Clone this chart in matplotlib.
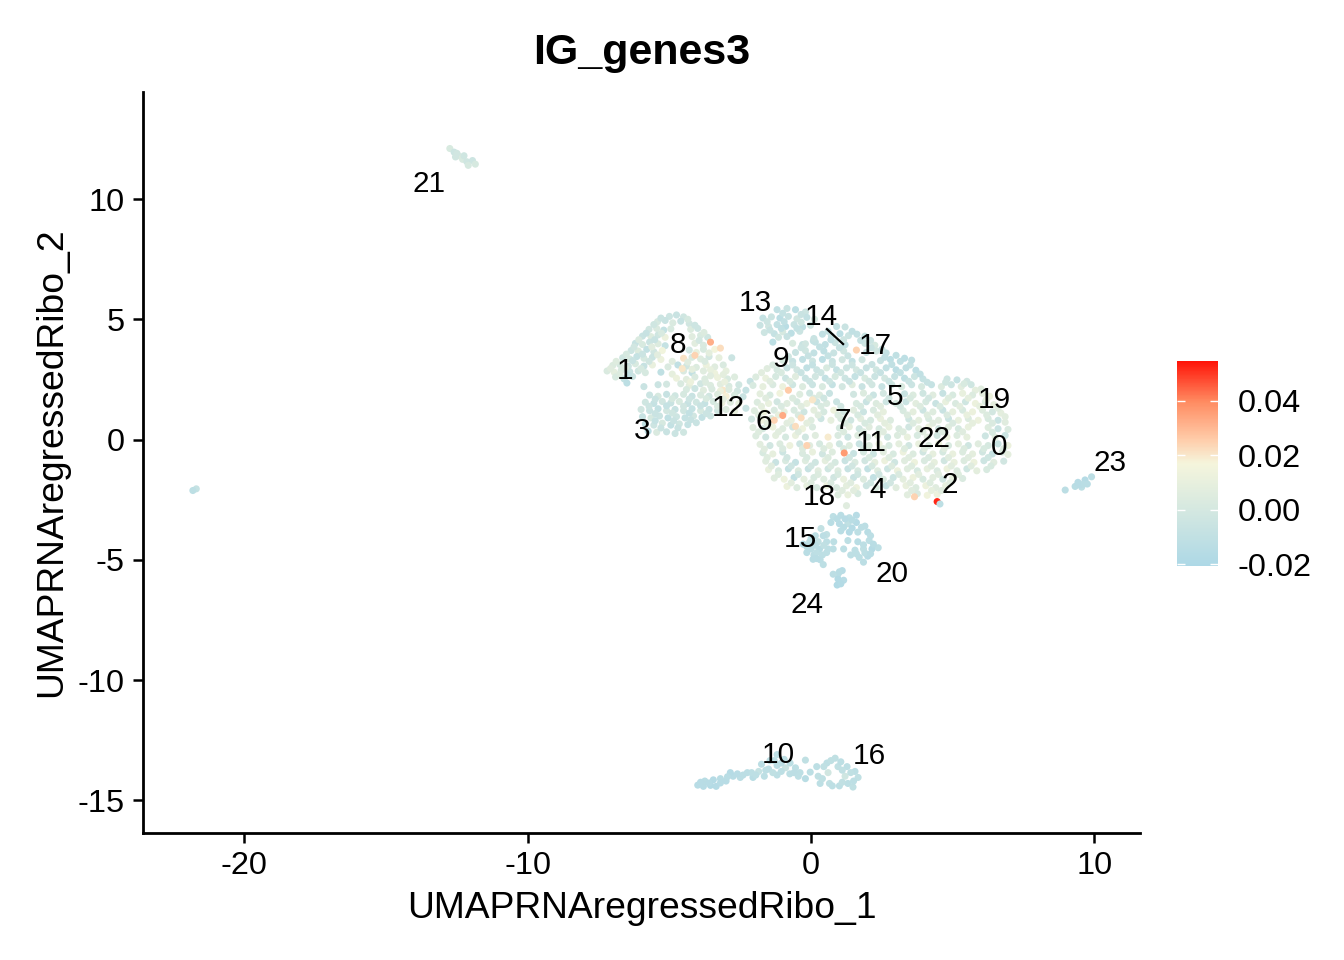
import matplotlib
matplotlib.use("Agg")
import matplotlib.pyplot as plt
from matplotlib.colors import LinearSegmentedColormap, Normalize
from matplotlib.cm import ScalarMappable

plt.rcParams['font.family'] = ['Liberation Sans', 'DejaVu Sans']
plt.rcParams['axes.unicode_minus'] = False

# (UMAP_1, UMAP_2, IG_genes3 score)
left_arc = [
(-5.0,5.12,-.004),(-4.75,5.18,-.006),(-4.5,5.1,-.003),(-5.42,4.9,.001),(-5.15,4.95,-.006),(-4.88,4.85,.003),(-4.6,4.92,-.007),(-4.3,4.82,-.002),
(-5.72,4.58,-.002),(-5.45,4.62,.003),(-5.2,4.55,-.008),(-4.95,4.6,.002),(-4.25,4.58,.004),(-4.0,4.62,-.004),
(-5.95,4.3,-.006),(-5.65,4.28,.005),(-5.4,4.35,-.003),(-5.15,4.25,.012),(-4.2,4.28,.006),(-3.9,4.33,.002),(-3.65,4.25,-.003),
(-6.2,4.0,-.007),(-5.95,3.95,.002),(-5.7,4.05,-.005),(-5.4,3.98,.004),(-5.15,3.9,-.008),(-4.1,4.0,.007),(-3.8,3.92,.003),
(-6.35,3.7,-.004),(-6.1,3.68,.004),(-5.8,3.75,-.009),(-5.55,3.65,-.002),(-5.25,3.7,.015),(-4.3,3.72,-.002),(-4.05,3.62,.01),(-3.8,3.75,.002),(-3.4,3.75,.016),
(-6.65,3.4,-.003),(-6.4,3.35,.002),(-6.15,3.45,-.008),(-5.9,3.38,.001),(-5.6,3.42,-.005),(-5.3,3.33,.012),(-4.9,3.25,.006),(-4.5,3.38,.021),(-4.2,3.42,.002),(-3.9,3.35,.005),(-3.6,3.45,-.001),(-3.25,3.4,.009),(-2.8,3.4,-.005),
(-7.0,3.08,.004),(-6.75,3.12,.001),(-6.45,3.05,-.004),(-6.2,3.15,.002),(-5.9,3.05,-.007),(-5.6,3.1,.011),(-5.05,3.02,.003),(-4.7,3.1,-.01),(-4.4,3.05,-.002),(-4.05,3.0,.004),(-3.7,3.1,.012),(-3.4,3.02,.006),(-3.1,3.1,.003),
(-7.2,2.85,.003),(-6.95,2.8,.008),(-6.7,2.88,.002),(-6.4,2.82,-.006),(-6.1,2.85,-.003),(-5.85,2.78,.001),(-5.3,2.8,-.011),(-4.9,2.72,.009),(-4.5,2.85,.003),(-4.2,2.78,-.009),(-3.8,2.85,.006),(-3.4,2.75,.013),(-3.0,2.85,.009),
(-6.9,2.6,.002),(-6.6,2.52,-.008),(-6.3,2.62,-.005),(-4.75,2.55,.012),(-4.4,2.5,.007),(-4.1,2.6,.003),(-3.75,2.52,.004),(-3.3,2.58,.012),(-2.95,2.52,.002),(-2.7,2.6,.005),
(-6.5,2.35,-.012),(-5.9,2.2,-.006),(-5.4,2.28,-.005),(-5.1,2.3,-.001),(-4.6,2.32,.003),(-4.3,2.25,.008),(-3.9,2.32,-.002),(-3.55,2.25,.004),(-3.2,2.3,.007),(-2.9,2.22,.002),(-2.55,2.28,-.003),(-2.15,2.42,-.007),
(-5.3,5.05,-.005),(-4.35,5.0,.001),(-5.55,4.78,-.003),(-4.1,4.75,-.004),(-5.82,4.42,-.007),(-5.28,4.42,.002),(-3.78,4.45,.004),(-6.08,4.15,.003),(-5.52,4.15,-.006),(-3.95,4.12,-.001),(-6.25,3.85,-.002),(-5.62,3.85,.006),(-3.6,3.6,.008),(-6.52,3.55,.001),(-5.95,3.55,-.005),(-5.42,3.52,.007),(-6.88,3.25,.005),(-6.3,3.28,-.006),(-5.72,3.25,-.002),(-4.35,3.22,.006),(-3.75,3.25,.003),(-7.08,2.95,.006),(-6.55,2.98,.003),(-6.0,2.95,.001),(-4.2,2.92,.008),(-3.55,2.9,.01),(-6.75,2.72,.004),(-6.45,2.68,-.009),(-3.55,2.65,.006),(-3.1,2.7,.008),(-4.25,2.4,.012),(-3.72,2.38,.004),(-3.05,2.4,.011),
(-3.55,4.05,.032),(-3.2,3.8,.022),(-4.1,3.5,.024),(-4.55,2.95,.02),(-3.1,2.05,.02),
]
left_lower = [
(-4.4,2.08,.002),(-4.1,2.12,-.004),(-3.8,2.05,.006),(-3.5,2.1,.003),(-3.2,2.02,.012),(-2.9,2.08,.004),(-2.6,2.02,-.002),(-2.3,2.05,-.008),
(-5.7,1.85,-.005),(-5.4,1.8,.001),(-5.1,1.88,-.007),(-4.8,1.82,-.003),(-4.5,1.88,.001),(-4.2,1.8,-.006),(-3.9,1.85,.003),(-3.6,1.8,-.002),(-3.3,1.88,.005),(-3.0,1.8,.018),(-2.7,1.85,.002),(-2.4,1.78,-.006),
(-5.85,1.55,-.003),(-5.55,1.5,-.008),(-5.25,1.58,-.002),(-4.95,1.52,-.006),(-4.65,1.58,.002),(-4.35,1.5,-.007),(-4.05,1.55,-.003),(-3.75,1.5,-.008),(-3.45,1.58,.001),(-3.15,1.52,.012),(-2.85,1.55,.006),(-2.55,1.5,.01),
(-6.0,1.25,-.002),(-5.7,1.2,-.006),(-5.4,1.28,-.009),(-5.1,1.2,-.001),(-4.8,1.25,-.007),(-4.5,1.2,-.003),(-4.2,1.28,-.008),(-3.9,1.2,.001),(-3.6,1.25,-.006),(-3.3,1.2,-.003),(-3.0,1.25,.004),(-2.7,1.18,.011),(-2.3,1.3,-.006),
(-5.95,.95,-.007),(-5.65,.9,.001),(-5.35,.98,-.005),(-5.05,.9,-.01),(-4.75,.95,-.004),(-4.45,.9,-.008),(-4.15,.98,-.002),(-3.85,.92,-.009),(-3.55,.98,-.004),
(-5.85,.65,-.011),(-5.55,.6,-.004),(-5.25,.68,.001),(-4.95,.6,-.009),(-4.65,.65,-.003),(-4.35,.62,-.008),(-4.05,.7,-.006),
(-5.75,.35,-.013),(-5.45,.3,.003),(-5.1,.32,-.006),(-4.8,.25,-.005),(-4.5,.3,-.003),
(-5.5,1.68,-.006),(-4.9,1.7,.001),(-4.3,1.68,-.004),(-3.7,1.7,.002),(-3.1,1.68,.008),(-5.72,1.38,-.004),(-5.1,1.4,-.008),(-4.5,1.38,-.002),(-3.9,1.4,-.006),(-3.3,1.38,.003),(-5.5,1.08,-.006),(-4.9,1.1,-.003),(-4.3,1.1,-.009),(-3.7,1.08,-.005),(-5.5,.78,-.008),(-4.85,.78,-.006),(-4.25,.82,-.007),(-5.3,.48,-.005),(-4.7,.48,-.006),
]
cluster_13 = [
(-1.2,5.4,-.01),(-.85,5.45,-.006),(-.55,5.4,-.012),(-.2,5.3,-.004),(-1.7,5.05,-.008),(-1.4,5.1,-.005),(-1.1,5.05,-.013),(-.8,5.12,-.007),(-.5,5.02,-.002),(-.15,5.08,-.009),(.12,5.0,.001),
(-1.8,4.75,-.006),(-1.5,4.7,-.002),(-1.2,4.78,-.009),(-.9,4.7,-.014),(-.6,4.78,-.006),(-.3,4.68,-.011),(-.02,4.75,-.003),(-1.65,4.45,-.004),(-1.3,4.4,-.008),(-1.0,4.48,.001),(-.7,4.42,-.012),(-.4,4.5,-.005),(-1.35,4.05,-.012),(-.65,4.0,.002),(-.3,3.95,-.006),(.08,4.1,-.008),
(-1.0,5.25,-.008),(-.35,5.2,-.006),(-1.55,4.9,-.004),(-.95,4.9,-.01),(-.35,4.88,-.003),(-1.45,4.55,-.006),(-1.05,4.62,-.011),(-.5,4.62,-.008),(-.85,4.28,-.007),(-1.15,4.25,-.003),
]
main_top = [
(.9,4.7,-.009),(1.2,4.68,-.006),(.4,4.38,-.01),(.72,4.3,-.007),(1.02,4.4,-.012),(1.32,4.32,-.005),(1.62,4.38,-.009),(1.9,4.3,-.006),
(-.2,3.98,-.002),(.15,4.05,-.008),(.5,3.95,-.01),(.85,4.03,-.005),(1.2,3.94,-.009),(1.9,4.0,-.004),(2.25,3.92,.001),
(-.55,3.62,-.006),(-.2,3.7,-.003),(.1,3.6,-.009),(.45,3.68,-.011),(.8,3.6,-.006),(1.15,3.68,-.003),(1.95,3.62,-.007),(2.3,3.68,-.002),(2.65,3.6,-.009),
(-1.0,3.3,.002),(-.65,3.25,-.007),(-.3,3.33,-.01),(.05,3.26,-.004),(.4,3.33,-.012),(.75,3.25,-.006),(1.1,3.32,-.002),(1.45,3.25,-.009),(1.8,3.32,-.003),(2.45,3.28,-.007),(2.8,3.33,-.012),(3.15,3.25,-.01),(3.5,3.1,-.008),
(-1.55,2.95,.006),(-1.2,2.9,.001),(-.85,2.98,-.006),(-.5,2.9,-.002),(-.15,2.98,-.01),(.2,2.9,-.005),(.55,2.98,.002),(.9,2.9,-.008),(1.25,2.98,-.004),(1.6,2.9,-.001),(1.95,2.98,-.007),(2.3,2.9,-.003),(2.65,2.98,-.009),(3.0,2.9,-.013),(3.35,2.98,-.01),(3.7,2.88,-.012),
(-1.95,2.6,.004),(-1.6,2.55,.011),(-1.25,2.62,.001),(-.9,2.55,-.004),(-.55,2.62,.006),(-.2,2.55,-.006),(.15,2.62,-.002),(.5,2.55,-.009),(.85,2.62,.001),(1.2,2.55,-.004),(1.55,2.62,-.008),(1.9,2.55,.002),(2.25,2.62,-.005),(2.6,2.55,-.001),(2.95,2.62,-.007),(3.3,2.55,-.011),(3.65,2.62,-.004),(3.95,2.52,-.008),(4.8,2.52,-.004),(5.15,2.48,-.008),(5.5,2.42,-.002),
(-2.05,2.25,.002),(-1.7,2.2,.009),(-1.35,2.28,.003),(-1.0,2.2,.012),(-.65,2.28,-.003),(-.3,2.2,.004),(.05,2.28,-.005),(.4,2.2,.002),(.75,2.28,-.008),(1.1,2.2,-.001),(1.45,2.28,.005),(1.8,2.2,-.006),(2.15,2.28,-.002),(2.5,2.2,-.007),(2.85,2.28,-.003),(3.2,2.2,.002),(3.55,2.28,-.005),(3.9,2.2,.001),(4.25,2.28,-.008),(4.6,2.2,.004),(4.95,2.28,-.004),(5.3,2.2,.007),(5.65,2.28,-.003),(6.0,2.1,.006),
(.6,4.5,-.008),(1.45,4.5,-.01),(.1,4.2,-.006),(.7,4.15,-.01),(1.15,4.15,-.004),(1.75,4.12,-.007),(2.1,4.12,-.005),(-.35,3.82,-.004),(.3,3.85,-.009),(1.0,3.82,-.007),(2.12,3.82,-.006),(2.5,3.75,-.006),(-.8,3.45,-.003),(-.1,3.48,-.007),(.6,3.48,-.008),(1.3,3.48,-.005),(2.6,3.42,-.01),(3.0,3.5,-.011),(3.3,3.38,-.012),(-1.35,3.1,.003),(-.65,3.1,-.004),(.05,3.1,-.008),(.75,3.12,-.005),(1.45,3.1,-.004),(2.15,3.12,-.006),(2.85,3.12,-.01),(3.55,3.3,-.01),(-1.75,2.78,.007),(-1.05,2.78,.002),(-.35,2.78,-.006),(.35,2.78,-.004),(1.05,2.78,-.003),(1.75,2.78,-.006),(2.45,2.78,-.007),(3.15,2.78,-.009),(3.85,2.72,-.01),(-1.45,2.42,.006),(-.75,2.42,.002),(-.05,2.42,-.005),(.65,2.42,-.004),(1.35,2.42,-.006),(2.05,2.42,-.002),(2.75,2.42,-.005),(3.45,2.42,-.006),(4.1,2.38,-.007),(4.75,2.38,-.003),(5.4,2.32,.002),(5.8,2.05,.008),
(1.6,3.72,.024),(-.8,2.05,.026),
]
main_mid = [
(-1.8,1.9,.008),(-1.45,1.85,.002),(-1.1,1.92,.014),(-.4,1.88,.005),(-.05,1.93,-.003),(.3,1.85,.004),(.65,1.92,-.006),(1.5,1.88,-.002),(1.85,1.93,.004),(2.2,1.85,-.005),(2.55,1.92,-.001),(3.3,1.9,-.006),(3.6,1.85,.004),(3.95,1.92,-.003),(4.3,1.85,.006),(4.65,1.92,-.007),(5.0,1.85,.002),(5.35,1.92,.01),(5.7,1.85,.004),(6.05,1.92,.008),(6.3,1.8,.012),
(-1.9,1.55,.004),(-1.5,1.5,.01),(-1.2,1.57,-.002),(-.85,1.5,.006),(-.5,1.57,.001),(-.15,1.5,.011),(.2,1.57,-.004),(.55,1.5,.003),(.9,1.57,-.005),(1.6,1.5,.002),(1.95,1.57,-.006),(2.3,1.5,.004),(2.65,1.57,-.004),(3.0,1.5,.001),(3.35,1.57,-.006),(3.7,1.5,.007),(4.05,1.57,.001),(4.4,1.5,-.006),(4.75,1.57,.01),(5.1,1.5,.003),(5.45,1.57,-.003),(5.8,1.5,.012),(6.15,1.57,.004),(6.45,1.45,.008),
(-2.0,1.2,.005),(-1.65,1.15,.012),(-1.3,1.22,.003),(-.95,1.15,.009),(-.6,1.22,.002),(-.25,1.15,-.003),(.1,1.22,.008),(.45,1.15,.001),(.8,1.22,.013),(1.15,1.15,-.002),(1.5,1.22,.006),(1.85,1.15,-.005),(2.2,1.22,.003),(2.55,1.15,.009),(3.25,1.2,.002),(3.6,1.15,.008),(3.95,1.22,-.004),(4.3,1.15,.005),(4.65,1.22,-.006),(5.0,1.15,.009),(5.35,1.22,.002),(5.7,1.15,.012),(6.05,1.22,.005),(6.4,1.15,-.001),(6.7,1.1,.008),
(-2.1,.85,-.002),(-1.75,.8,.014),(-1.4,.87,.004),(-.7,.8,.011),(0,.8,.005),(.35,.87,-.004),(.7,.8,.009),(1.05,.87,.002),(1.4,.8,-.003),(1.75,.87,.007),(2.1,.8,.001),(2.45,.87,.011),(2.8,.8,.004),(3.45,.85,-.003),(3.8,.8,.008),(4.15,.87,.002),(4.5,.8,.006),(4.85,.87,-.005),(5.2,.8,.01),(5.55,.87,.004),(5.9,.8,.012),(6.25,.87,.002),(6.6,.8,-.006),(6.85,.72,.006),
(-2.05,.5,.006),(-1.7,.45,.001),(-1.35,.52,.012),(-1,.45,.005),(-.65,.52,-.002),(-.3,.45,.013),(.05,.52,.003),(1.0,.48,.001),(1.35,.53,.009),(1.7,.45,-.003),(2.05,.52,.006),(2.4,.45,.001),(2.75,.52,.01),(3.1,.45,.003),(3.45,.52,-.002),(3.8,.45,.008),(4.15,.52,.012),(4.5,.45,-.002),(4.85,.52,.006),(5.2,.45,.001),(5.55,.52,.01),(6.25,.5,.005),(6.6,.45,-.006),(6.95,.42,.003),
(-1.95,.15,.004),(-1.6,.1,-.003),(-1.25,.17,.008),(-.9,.1,.001),(-.55,.17,.011),(-.2,.1,-.002),(.15,.17,.006),(.6,.1,.019),(.95,.17,.003),(1.3,.1,-.004),(1.65,.17,.005),(2.0,.1,.002),(2.35,.17,.009),(2.7,.1,-.003),(3.05,.17,.004),(3.4,.1,.01),(3.75,.17,.002),(4.1,.1,.007),(4.45,.17,-.002),(4.8,.1,.012),(5.15,.17,.004),(5.5,.1,.009),(6.15,.15,-.004),(6.5,.1,.007),(6.85,.17,-.005),
(-1.6,1.72,.006),(-.65,1.72,.004),(.1,1.72,.003),(.45,1.72,-.003),(2.05,1.72,.001),(2.75,1.72,-.002),(3.5,1.72,.002),(4.15,1.72,-.001),(4.85,1.72,.005),(5.55,1.72,.008),(6.2,1.68,.01),(-1.75,1.38,.008),(-1.05,1.38,.003),(-.35,1.38,.006),(.35,1.38,.002),(1.05,1.38,-.002),(1.75,1.38,.001),(2.45,1.38,.006),(3.15,1.38,-.001),(3.85,1.38,.004),(4.55,1.38,.002),(5.25,1.38,.007),(5.95,1.38,.009),(6.6,1.3,.005),(-1.85,1.02,.006),(-1.15,1.02,.009),(-.45,1.02,.003),(.25,1.02,.006),(.95,1.02,.004),(1.65,1.02,.002),(2.35,1.02,.007),(3.4,1.02,.004),(4.1,1.02,.005),(4.8,1.02,.003),(5.5,1.02,.01),(6.2,1.02,.004),(6.85,.95,.007),(-1.55,.68,.008),(-.85,.68,.007),(-.15,.68,.008),(1.2,.68,.004),(1.9,.68,.002),(2.6,.68,.008),(3.6,.68,.004),(4.3,.68,.006),(5.0,.68,.003),(5.7,.68,.009),(6.4,.68,.003),(-1.85,.32,.005),(-1.15,.32,.007),(-.45,.32,.006),(1.15,.32,.004),(1.85,.32,.003),(2.55,.32,.006),(3.25,.32,.005),(3.95,.32,.006),(4.65,.32,.005),(5.35,.32,.006),(6.4,.3,.002),
(-1.0,1.0,.033),(-1.3,.8,.024),(-.35,.9,.022),(-.55,.55,.022),(.05,1.65,.02),
]
main_low = [
(-1.8,-.2,.007),(-1.45,-.25,-.002),(-1.1,-.18,.004),(-.75,-.25,.012),(-.4,-.18,-.004),(-.05,-.25,.006),(.3,-.18,.001),(.65,-.25,.009),(1.0,-.18,-.003),(1.35,-.25,.005),(1.7,-.18,-.006),(2.05,-.25,.004),(2.4,-.18,.012),(2.75,-.25,.002),(3.1,-.18,.008),(3.45,-.25,-.002),(3.8,-.18,.011),(4.15,-.25,.004),(4.5,-.18,.013),(4.85,-.25,.002),(5.2,-.18,.008),(5.55,-.25,-.003),(5.9,-.18,.006),(6.25,-.25,.001),(6.6,-.18,-.006),(6.95,-.25,.012),
(-1.7,-.55,.002),(-1.35,-.6,.009),(-1.0,-.52,-.004),(-.3,-.58,.003),(.05,-.52,.011),(.4,-.6,-.002),(.75,-.52,.005),(1.5,-.58,-.006),(1.85,-.52,.001),(2.2,-.6,-.004),(2.55,-.52,.007),(2.9,-.6,.002),(3.25,-.52,.012),(3.6,-.6,.004),(3.95,-.52,-.002),(4.3,-.6,.009),(4.65,-.52,.001),(5,-.6,.011),(5.35,-.52,.004),(5.7,-.6,.008),(6.05,-.52,-.002),(6.4,-.6,-.007),(6.75,-.52,.003),(6.95,-.62,.008),
(-1.6,-.9,.006),(-1.25,-.95,-.006),(-.9,-.88,.002),(-.55,-.95,-.008),(-.2,-.88,.005),(.15,-.95,-.003),(.5,-.88,.008),(.85,-.95,.001),(1.2,-.88,-.006),(1.55,-.95,.003),(1.9,-.88,-.002),(2.25,-.95,.008),(2.6,-.88,.012),(2.95,-.95,-.003),(3.3,-.88,.006),(3.65,-.95,.013),(4,-.88,.003),(4.35,-.95,.009),(4.7,-.88,-.002),(5.05,-.95,.011),(5.4,-.88,.004),(5.75,-.95,.012),(6.1,-.88,-.004),(6.45,-.95,.006),(6.8,-.9,-.002),
(-1.5,-1.25,.011),(-1.15,-1.3,.002),(-.8,-1.22,-.009),(-.45,-1.3,.004),(-.1,-1.22,-.007),(.25,-1.3,.007),(.6,-1.22,-.003),(.95,-1.3,.005),(1.3,-1.22,-.007),(1.65,-1.3,.001),(2,-1.22,-.009),(2.35,-1.3,.005),(2.7,-1.22,-.004),(3.05,-1.3,.012),(3.4,-1.22,.006),(3.75,-1.3,.001),(4.1,-1.22,.009),(4.45,-1.3,.003),(4.8,-1.22,.012),(5.15,-1.3,.004),(5.5,-1.22,-.003),(5.85,-1.3,.008),(6.2,-1.25,.002),
(-1.3,-1.6,.006),(-.95,-1.65,.013),(-.6,-1.58,-.01),(-.25,-1.65,.008),(.1,-1.58,.002),(.45,-1.65,.005),(.8,-1.58,-.002),(1.15,-1.65,.011),(1.5,-1.58,-.006),(1.85,-1.65,.004),(2.2,-1.58,-.009),(2.55,-1.65,.003),(2.9,-1.58,-.004),(3.25,-1.65,.008),(3.6,-1.58,.012),(3.95,-1.65,.002),(4.3,-1.58,.007),(4.65,-1.65,-.002),(5,-1.58,.009),(5.35,-1.62,.003),
(-.85,-1.95,.012),(-.5,-2.0,.004),(-.15,-1.92,.009),(.2,-2.0,.002),(.55,-1.92,.012),(.9,-2.0,.003),(1.25,-1.92,.008),(1.6,-2.0,.012),(1.95,-1.92,-.004),(2.3,-2.0,.003),(2.65,-1.92,-.007),(3.0,-2.0,.006),(3.35,-1.92,.011),(3.7,-2.0,.004),(4.05,-1.92,.012),(4.4,-2.0,.006),(4.75,-1.92,.009),
(.95,-2.3,.005),(1.3,-2.3,.011),(1.65,-2.25,.002),(3.4,-2.3,.007),(3.75,-2.25,.003),(4.1,-2.32,.014),(4.45,-2.28,.012),(1.25,-2.75,.006),
(-1.65,-.4,.006),(-1.0,-.38,.003),(-.3,-.38,.004),(.45,-.38,.004),(1.15,-.38,.002),(1.85,-.38,-.001),(2.55,-.38,.006),(3.3,-.38,.005),(4.0,-.38,.006),(4.7,-.38,.006),(5.4,-.38,.004),(6.1,-.38,.002),(6.8,-.38,.004),(-1.55,-.75,.005),(-.85,-.75,-.002),(-.15,-.75,.002),(.6,-.75,.004),(1.35,-.75,-.002),(2.05,-.75,.002),(2.75,-.75,.005),(3.45,-.75,.006),(4.15,-.75,.003),(4.85,-.75,.006),(5.55,-.75,.006),(6.25,-.75,-.003),(-1.4,-1.1,.006),(-.7,-1.1,-.004),(0,-1.1,-.002),(.7,-1.1,.003),(1.45,-1.1,-.002),(2.15,-1.1,.001),(2.85,-1.1,.004),(3.55,-1.1,.005),(4.25,-1.1,.006),(4.95,-1.1,.007),(5.65,-1.1,.006),(6.35,-1.1,.002),(-1.15,-1.45,.005),(-.45,-1.45,-.003),(.25,-1.45,.004),(.95,-1.45,.002),(1.65,-1.45,-.003),(2.4,-1.45,-.002),(3.1,-1.45,.003),(3.8,-1.45,.007),(4.5,-1.45,.006),(5.2,-1.45,.005),(-.7,-1.8,.007),(0,-1.8,.005),(.7,-1.8,.003),(1.4,-1.8,.006),(2.1,-1.8,-.003),(2.8,-1.8,-.002),(3.5,-1.8,.007),(4.2,-1.8,.005),(4.9,-1.8,.006),(1.1,-2.12,.006),(1.5,-2.12,.007),(3.55,-2.12,.006),(4.25,-2.12,.009),(4.6,-2.12,.006),
(-.15,-.25,.024),(1.17,-.56,.036),(3.65,-2.38,.024),(4.45,-2.58,.052),(4.55,-2.68,-.012),
]
cluster_15_20 = [
(.78,-3.2,-.012),(1.05,-3.15,-.014),(1.35,-3.25,-.012),(1.6,-3.15,-.015),(.7,-3.45,-.014),(1.0,-3.5,-.015),(1.3,-3.5,-.011),(1.6,-3.45,-.016),(1.9,-3.6,-.013),
(1.05,-3.8,-.014),(1.35,-3.85,-.016),(1.65,-3.85,-.012),(2.0,-3.85,-.014),(.35,-3.7,-.009),(.55,-3.95,-.01),(1.3,-4.2,-.012),(1.65,-4.25,-.014),(2.05,-4.2,-.012),
(1.15,-4.55,-.012),(1.55,-4.6,-.012),(1.85,-4.55,-.011),(2.15,-4.55,-.016),(2.37,-4.5,-.012),(1.4,-4.8,-.012),(1.7,-4.9,-.012),(2.0,-4.85,-.015),(1.85,-5.1,-.013),
(.15,-4.0,-.012),(.43,-4.0,-.013),(-.05,-4.25,-.012),(.25,-4.25,-.01),(.55,-4.25,-.012),(.8,-4.25,-.012),(-.28,-4.35,-.016),(0,-4.55,-.013),(.3,-4.55,-.014),(.6,-4.55,-.012),(.78,-4.55,-.012),
(-.15,-4.7,-.014),(.1,-4.8,-.013),(.4,-4.8,-.012),(.07,-4.98,-.014),(.32,-5.0,-.013),(.43,-5.2,-.012),
(.92,-3.3,-.014),(1.2,-3.3,-.015),(1.45,-3.35,-.014),(1.15,-3.65,-.014),(1.45,-3.68,-.016),(1.78,-3.65,-.013),(2.1,-4.0,-.013),(1.85,-4.38,-.012),(2.2,-4.35,-.014),(1.6,-4.75,-.012),(1.9,-4.72,-.012),(2.1,-4.75,-.014),(.0,-4.1,-.012),(-.15,-4.45,-.014),(.15,-4.4,-.013),(.45,-4.4,-.011),(.2,-4.7,-.012),(.55,-4.7,-.012),(.2,-4.95,-.014),
(.78,-5.6,-.013),(1.1,-5.45,-.015),(.95,-5.6,-.012),(1.15,-5.85,-.015),(.95,-5.8,-.017),(.92,-6.05,-.018),(1.05,-6.0,-.017),(1.0,-5.5,-.014),
]
cluster_10_16 = [
(-4.0,-14.37,-.015),(-3.8,-14.42,-.015),(-3.55,-14.38,-.017),(-3.35,-14.42,-.016),(-3.75,-14.2,-.014),(-3.45,-14.15,-.016),(-3.2,-14.1,-.014),(-3.0,-14.2,-.015),(-2.75,-14.0,-.015),(-2.5,-14.05,-.013),(-2.85,-13.85,-.016),
(-2.25,-13.85,-.013),(-2.05,-14.05,-.014),(-1.85,-13.8,-.008),(-1.65,-14.0,-.012),(-1.75,-13.5,-.013),(-1.5,-13.7,-.013),(-1.2,-13.95,-.012),(-1.45,-13.35,-.012),(-1.2,-13.55,-.013),(-1.2,-13.1,-.012),(-.95,-13.3,-.012),(-.9,-13.65,-.006),(-.75,-13.9,-.012),(-.74,-13.45,-.012),(-.39,-13.85,-.012),(-.55,-13.65,-.012),
(-.2,-13.33,-.011),(-.2,-14.1,-.014),(-.03,-13.83,-.012),(.2,-13.6,-.012),(.25,-14.0,-.01),(.32,-14.3,-.012),(.56,-13.45,-.012),(.6,-13.85,-.002),(.65,-14.3,-.01),(.85,-13.25,-.011),(.95,-13.6,-.01),(1.0,-14.4,-.012),(1.27,-13.6,-.012),(1.2,-14.0,-.003),(1.3,-14.3,-.012),(1.48,-14.45,-.011),(1.55,-13.8,-.012),(1.66,-14.05,-.011),
(-3.9,-14.25,-.015),(-3.6,-14.28,-.015),(-3.2,-14.28,-.015),(-2.95,-14.02,-.014),(-2.6,-13.9,-.015),(-2.4,-13.95,-.013),(-2.1,-13.85,-.012),(-1.95,-13.95,-.012),(-1.6,-13.75,-.012),(-1.35,-13.85,-.011),(-1.05,-13.8,-.012),(-1.3,-13.35,-.012),(-1.05,-13.45,-.013),(-.6,-13.85,-.013),(-.45,-14.0,-.012),(.45,-13.6,-.011),(.4,-14.1,-.011),(.7,-13.35,-.011),(.75,-14.4,-.012),(1.05,-13.4,-.012),(1.1,-13.75,-.01),(1.4,-13.85,-.011),(1.1,-14.25,-.01),(1.5,-14.2,-.012),
]
small_groups = [
(-12.75,12.1,.002),(-12.6,11.95,-.004),(-12.45,11.8,.004),(-12.5,11.9,-.002),(-12.3,11.65,.002),(-12.15,11.55,-.003),(-11.95,11.6,-.004),(-11.85,11.45,.001),(-12.55,11.75,-.002),(-12.25,11.8,-.003),(-12.1,11.4,.001),
(-21.7,-2.05,-.008),(-21.82,-2.12,-.012),
(8.97,-2.1,-.013),(9.32,-1.95,-.014),(9.42,-1.78,-.015),(9.55,-1.98,-.012),(9.67,-1.68,-.016),(9.75,-1.85,-.014),(9.9,-1.55,-.013),(9.5,-1.88,-.015),(9.62,-1.85,-.014),
]
cluster_ids = ['21','13','14','17','9','8','1','5','19','12','6','7','3','11','22','0','23','2','4','18','15','20','24','10','16']
label_x = [-13.5,-1.98,.35,2.26,-1.06,-4.69,-6.57,2.97,6.46,-2.93,-1.66,1.13,-5.97,2.12,4.34,6.64,10.55,4.91,2.36,.28,-.39,2.86,-.14,-1.16,2.05]
label_y = [10.61,5.67,5.09,3.88,3.34,3.92,2.84,1.76,1.64,1.30,.72,.76,.35,-.15,.01,-.32,-.98,-1.90,-2.11,-2.40,-4.14,-5.60,-6.89,-13.13,-13.17]
segment_x = [.56,1.13]
segment_y = [4.59,3.97]
x_ticks = [-20,-10,0,10]
y_ticks = [-15,-10,-5,0,5,10]
bar_ticks = [-.02,0,.02,.04]
bar_labels = ['-0.02','0.00','0.02','0.04']
score_min, score_max = -.0207, .0545

cmap = LinearSegmentedColormap.from_list(
    'ig', [(0, 'lightblue'), (.5, 'beige'), (.62, '#FFCBA8'), (.8, '#FF8C62'), (1, '#FF1408')])
norm = Normalize(score_min, score_max)

W, H = 1344, 960
fig = plt.figure(figsize=(W/200, H/200), dpi=200)
ax = fig.add_axes([143/W, (H-833)/H, (1140-143)/W, (833-92)/H])

points = left_arc + left_lower + cluster_13 + main_top + main_mid + main_low + cluster_15_20 + cluster_10_16 + small_groups
ax.scatter([p[0] for p in points], [p[1] for p in points], c=[p[2] for p in points],
           cmap=cmap, norm=norm, s=6.5, linewidths=0)
ax.set_xlim(-23.58, 11.61)
ax.set_ylim(-16.36, 14.45)
for s in ['top', 'right']:
    ax.spines[s].set_visible(False)
for s in ['left', 'bottom']:
    ax.spines[s].set_linewidth(1.0)
ax.set_xticks(x_ticks)
ax.set_yticks(y_ticks)
ax.tick_params(labelsize=11.7, length=3.6, width=0.9, pad=3)
ax.set_xlabel('UMAPRNAregressedRibo_1', fontsize=13.4, labelpad=3.5)
ax.set_ylabel('UMAPRNAregressedRibo_2', fontsize=13.4, labelpad=3)
ax.set_title('IG_genes3', fontsize=15.5, fontweight='bold', pad=10)

for t, x, y in zip(cluster_ids, label_x, label_y):
    ax.text(x, y, t, fontsize=10.7, ha='center', va='center', color='black')
ax.plot(segment_x, segment_y, color='black', lw=0.8)

cax = fig.add_axes([1177/W, (H-566)/H, 41/W, 205/H])
cb = fig.colorbar(ScalarMappable(norm=norm, cmap=cmap), cax=cax, ticks=bar_ticks)
cb.outline.set_visible(False)
cb.ax.set_yticklabels(bar_labels)
cb.ax.tick_params(length=0, labelsize=11.7, pad=7)
cb.ax.hlines(bar_ticks, 0, .2, color='white', lw=0.5)
cb.ax.hlines(bar_ticks, .8, 1, color='white', lw=0.5)

fig.savefig('out.png', dpi=200, facecolor='white')
